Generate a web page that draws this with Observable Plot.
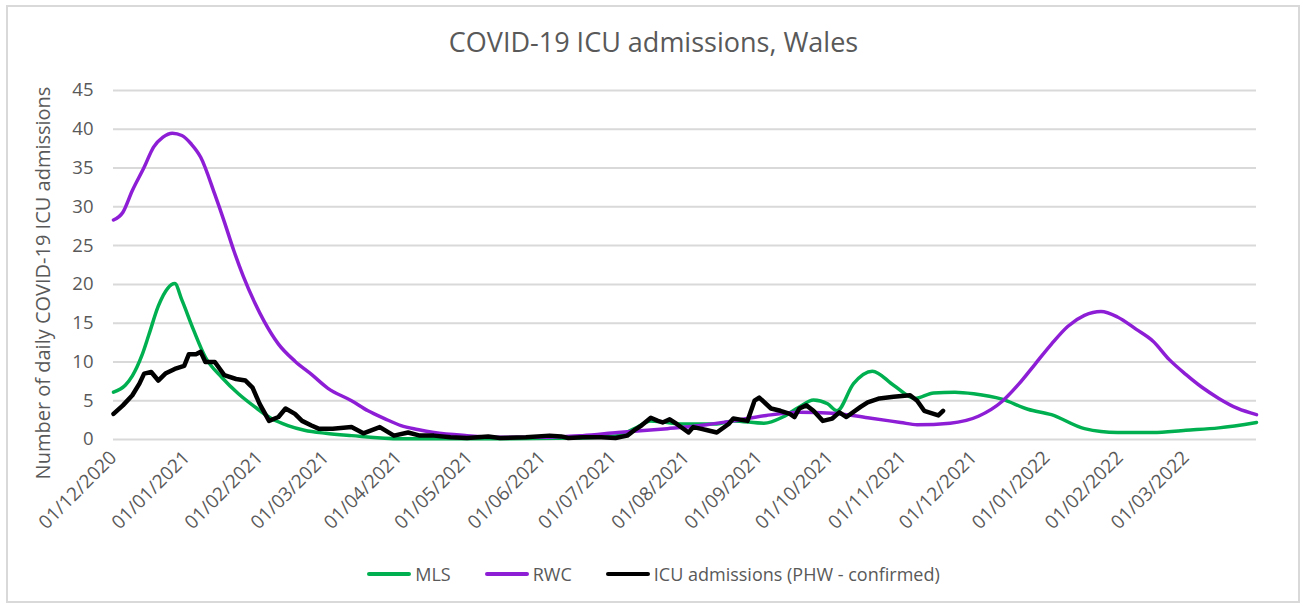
<!DOCTYPE html>
<html>
<head>
<meta charset="utf-8">
<script src="https://cdn.jsdelivr.net/npm/d3@7"></script>
<script src="https://cdn.jsdelivr.net/npm/@observablehq/plot@0.6"></script>
<style>
  body { margin: 0; background: #fff; font-family: "Open Sans", sans-serif; }
  #wrap { position: relative; width: 1303px; height: 607px; overflow: hidden; background: #fff; }
  #frame { position: absolute; left: 6px; top: 5px; width: 1294px; height: 598px; border: 2px solid #d9d9d9; box-sizing: border-box; }
  #title { position: absolute; top: 23px; left: 2px; width: 1303px; text-align: center; font-size: 27px; color: #595959; }
  #ylabel { position: absolute; left: 42px; top: 283px; transform: translate(-50%, -50%) rotate(-90deg); white-space: nowrap; font-size: 20px; color: #595959; }
  #chart { position: absolute; left: 0; top: 0; }
  #legend { position: absolute; top: 562px; left: 0; width: 1303px; display: flex; justify-content: center; font-size: 18px; color: #595959; padding-left: 4px; box-sizing: border-box; }
  .item { display: flex; align-items: center; margin: 0 17px; }
  .sw { width: 44px; height: 4px; border-radius: 2px; margin-right: 4px; }
</style>
</head>
<body>
<div id="wrap">
  <div id="frame"></div>
  <div id="chart"></div>
  <div id="title">COVID-19 ICU admissions, Wales</div>
  <div id="ylabel">Number of daily COVID-19 ICU admissions</div>
  <div id="legend"></div>
</div>
<script>
// Day offsets from 01/12/2020 and values
const startDate = "2020-12-01";
const endDay = 485;

const seriesNames = ["MLS", "RWC", "ICU admissions (PHW - confirmed)"];
const seriesColors = ["#00B050", "#8E1ED6", "#000000"];

const mlsDays = [0,5,8,12,15,19,23,26,29,34, 39,46,53,60,67,74,81,90,101,122, 164,199,214,221,228,242,256,263,276,284, 291,297,303,307,314,322,331,340,348,357, 365,377,388,398,412,426,441,455,469,485];
const mlsValues = [6.1,7.0,8.2,10.8,13.5,17.2,19.5,20.1,18.0,14.1, 10.6,8.0,5.9,4.2,2.7,1.8,1.2,0.8,0.5,0.1, 0.1,0.2,0.5,1.4,2.4,2.0,2.0,2.4,2.1,2.9, 4.2,5.1,4.6,3.7,7.2,8.8,7.0,5.3,6.0,6.1, 5.9,5.2,3.9,3.2,1.4,0.9,0.9,1.2,1.5,2.2];

const rwcDays = [0,4,8,13,17,21,25,29,33,37, 43,47,51,55,60,64,70,77,84,91, 101,108,115,122,129,136,150,164,185,199, 214,235,249,263,277,291,305,320,334,341, 355,367,377,384,391,398,405,412,419,426, 434,441,448,455,462,469,477,485];
const rwcValues = [28.3,29.3,32.1,35.1,37.7,39.0,39.5,39.2,38.1,36.4, 31.6,28.1,24.4,21.1,17.6,15.2,12.3,10.1,8.4,6.6, 5.0,3.7,2.7,1.8,1.3,0.9,0.5,0.3,0.3,0.5, 0.9,1.4,1.8,2.4,3.1,3.5,3.4,2.8,2.2,1.9, 2.1,3.0,4.9,7.1,9.7,12.3,14.6,16.0,16.5,15.8, 14.2,12.7,10.3,8.4,6.7,5.3,4.0,3.2];

const icuDays = [0,4,8,11,13,16,19,22,26,30, 32,35,37,39,43,47,52,56,59,62, 66,70,73,77,80,84,87,93,101,106, 113,119,125,130,136,143,150,159,164,175, 185,190,193,199,207,213,218,221,224,228, 231,233,236,239,244,246,249,252,256,261, 263,269,272,274,279,283,287,289,291,294, 297,301,305,308,311,317,320,325,331,338, 341,344,348,350,352];
const icuValues = [3.3,4.4,5.7,7.2,8.5,8.7,7.6,8.5,9.1,9.5, 11.0,11.0,11.3,10.0,10.0,8.3,7.8,7.6,6.7,4.6, 2.4,2.9,4.0,3.3,2.4,1.8,1.4,1.4,1.6,0.8, 1.6,0.5,0.9,0.5,0.5,0.3,0.2,0.4,0.2,0.3, 0.5,0.4,0.2,0.3,0.3,0.2,0.5,1.2,1.8,2.8, 2.4,2.2,2.6,2.0,0.9,1.6,1.4,1.2,0.9,2.0, 2.7,2.4,5.0,5.4,4.0,3.7,3.3,2.9,4.0,4.4, 3.7,2.4,2.7,3.5,2.9,4.2,4.8,5.3,5.5,5.7, 5.0,3.7,3.3,3.1,3.7];

const yTicks = [0,5,10,15,20,25,30,35,40,45];
const monthTickLabels = ["01/12/2020","01/01/2021","01/02/2021","01/03/2021","01/04/2021","01/05/2021","01/06/2021","01/07/2021","01/08/2021","01/09/2021","01/10/2021","01/11/2021","01/12/2021","01/01/2022","01/02/2022","01/03/2022"];

const start = new Date(startDate + "T00:00:00Z");
const toDate = n => d3.utcDay.offset(start, n);
const parseLabel = d3.utcParse("%d/%m/%Y");
const monthTicks = monthTickLabels.map(parseLabel);
const fmt = d3.utcFormat("%d/%m/%Y");

const build = (days, values) => days.map((d, i) => ({date: toDate(d), value: values[i]}));
const mls = build(mlsDays, mlsValues);
const rwc = build(rwcDays, rwcValues);
const icu = build(icuDays, icuValues);

const chart = Plot.plot({
  width: 1303,
  height: 560,
  marginLeft: 113,
  marginRight: 47,
  marginTop: 90,
  marginBottom: 121,
  style: {fontFamily: "'Open Sans', sans-serif", background: "transparent"},
  x: {type: "utc", domain: [toDate(0), toDate(endDay)]},
  y: {domain: [0, 45]},
  marks: [
    Plot.gridY(yTicks, {stroke: "#d9d9d9", strokeOpacity: 1, strokeWidth: 2}),
    Plot.axisY(yTicks, {tickSize: 0, tickPadding: 20, fontSize: 18.5, color: "#595959", label: null}),
    Plot.axisX(monthTicks, {tickSize: 0, tickPadding: 15, tickRotate: -45, tickFormat: fmt, fontSize: 19, color: "#595959", label: null}),
    Plot.line(mls, {x: "date", y: "value", stroke: seriesColors[0], strokeWidth: 3.5, curve: "monotone-x"}),
    Plot.line(rwc, {x: "date", y: "value", stroke: seriesColors[1], strokeWidth: 3.5, curve: "monotone-x"}),
    Plot.line(icu, {x: "date", y: "value", stroke: seriesColors[2], strokeWidth: 4.5, curve: "linear", strokeLinejoin: "round"})
  ]
});
document.getElementById("chart").appendChild(chart);

const legend = document.getElementById("legend");
seriesNames.forEach((name, i) => {
  const item = document.createElement("div");
  item.className = "item";
  const sw = document.createElement("div");
  sw.className = "sw";
  sw.style.background = seriesColors[i];
  const t = document.createElement("span");
  t.textContent = name;
  item.appendChild(sw);
  item.appendChild(t);
  legend.appendChild(item);
});
</script>
</body>
</html>
